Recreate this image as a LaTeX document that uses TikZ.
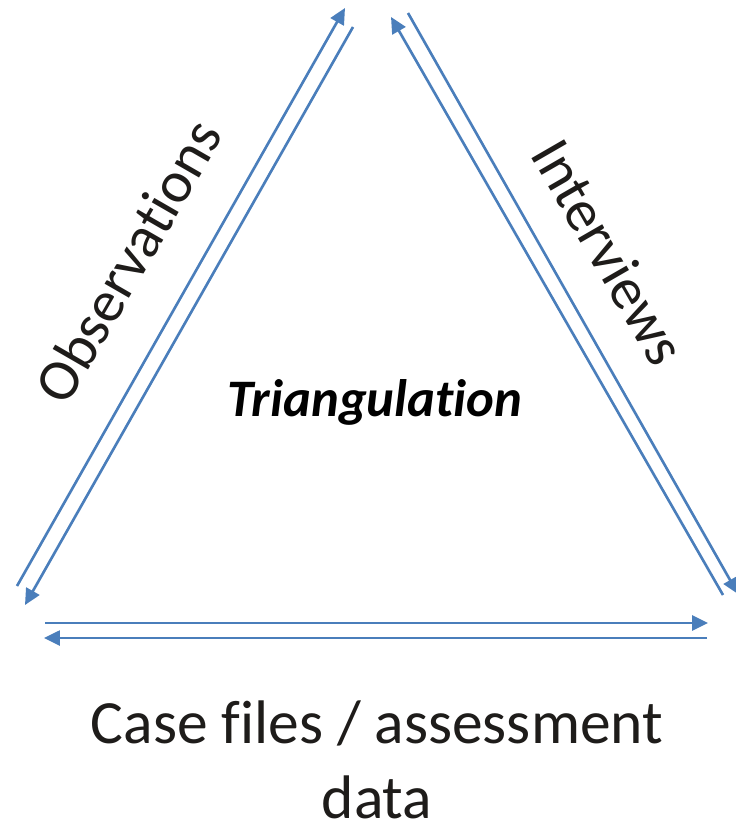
\documentclass[tikz,border=0pt]{standalone}
\usepackage{fontspec}
\setmainfont{Carlito}[Ligatures=NoCommon]
\usetikzlibrary{arrows.meta}
\definecolor{arrowblue}{RGB}{74,126,187}
\definecolor{textblack}{RGB}{30,28,26}

\begin{document}
\begin{tikzpicture}[x=0.02cm, y=-0.02cm,
    link/.style={draw=arrowblue, line width=1.5pt, -{Triangle[length=0.32cm, width=0.3cm]}},
    side/.style={text=textblack, font=\fontsize{33.5}{40}\selectfont}]
    \useasboundingbox (0, 0) rectangle (735, 824);

    % arrow ends
    \coordinate (LUs) at (17, 586);
    \coordinate (LUe) at (345, 8);
    \coordinate (LDs) at (353, 27);
    \coordinate (LDe) at (25, 605);
    \coordinate (RUs) at (723, 595);
    \coordinate (RUe) at (391, 17);
    \coordinate (RDs) at (408, 13);
    \coordinate (RDe) at (738, 594);
    \coordinate (BRs) at (45, 623);
    \coordinate (BRe) at (708, 623);
    \coordinate (BLs) at (707, 638);
    \coordinate (BLe) at (44, 638);

    \node[side, rotate=60] at (128, 261) (obs) {Observations};
    \node[side, rotate=-60] at (609, 252) (intv) {Interviews};
    \node[font=\fontsize{30}{36}\selectfont\bfseries\itshape] at (375, 402) (tri) {Triangulation};
    \node[side, align=center, font=\fontsize{35}{43}\selectfont] at (377, 760) (case) {Case files / assessment\\data};

    \draw[link] (LUs) -- (LUe);
    \draw[link] (LDs) -- (LDe);
    \draw[link] (RUs) -- (RUe);
    \draw[link] (RDs) -- (RDe);
    \draw[link] (BRs) -- (BRe);
    \draw[link] (BLs) -- (BLe);
\end{tikzpicture}
\end{document}
